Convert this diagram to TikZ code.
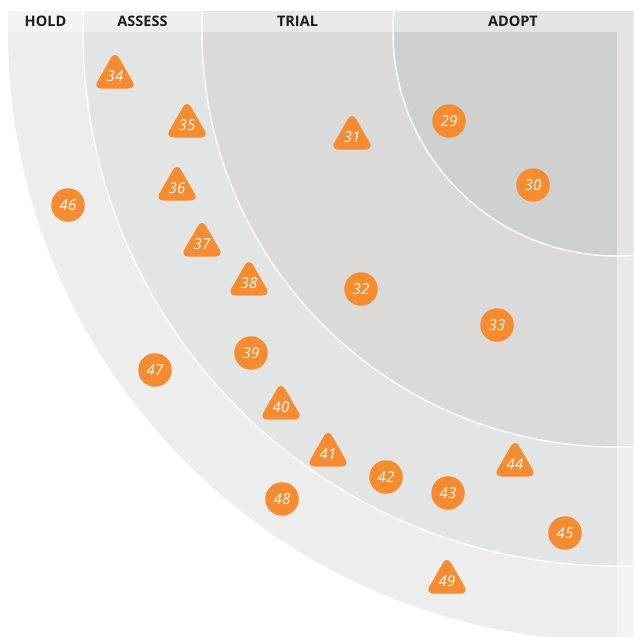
\documentclass[tikz,border=0pt]{standalone}
\usepackage{fontspec}
\setmainfont{Open Sans}
\usetikzlibrary{shapes.geometric}
\definecolor{orng}{HTML}{F68B2F}
\definecolor{holdc}{HTML}{ECEDEC}
\definecolor{assessc}{HTML}{E3E4E4}
\definecolor{trialc}{HTML}{DCDAD8}
\definecolor{adoptc}{HTML}{CFD1D0}
\definecolor{hdrtext}{HTML}{1E1E1E}
\begin{document}
\begin{tikzpicture}[x=1pt,y=-1pt,
  dot/.style={circle, fill=orng, minimum size=33.5pt, inner sep=0pt, text=white,
    font=\itshape\fontsize{15}{15}\selectfont},
  tri/.style={regular polygon, regular polygon sides=3, fill=orng, minimum size=50pt,
    inner sep=0pt, rounded corners=8pt, text=white,
    font=\itshape\fontsize{15}{15}\selectfont},
  ringline/.style={draw=white, line width=1.4pt},
  hdr/.style={font=\bfseries\fontsize{14.5}{14.5}\selectfont, text=hdrtext},
  veil/.style={fill=white, fill opacity=0.42}]
\useasboundingbox (0,0) rectangle (633,637);
\coordinate (c) at (617,32);
\begin{scope}
  \clip (0,11) rectangle (633,637);
  \fill[holdc] (c) circle[radius=609pt];
  \fill[assessc] (c) circle[radius=534pt];
  \fill[trialc] (c) circle[radius=415pt];
  \fill[adoptc] (c) circle[radius=224pt];
  \draw[ringline] (c) circle[radius=534pt];
  \draw[ringline] (c) circle[radius=415pt];
  \draw[ringline] (c) circle[radius=224pt];
  \fill[veil] (0,11) rectangle (617,32);
  \fill[veil] (617,11) rectangle (633,637);
\end{scope}
% header labels
\node[hdr] (hHold) at (45.5,21.5) {HOLD};
\node[hdr] (hAssess) at (142.5,21.5) {ASSESS};
\node[hdr] (hTrial) at (297.5,21.5) {TRIAL};
\node[hdr] (hAdopt) at (513,21.5) {ADOPT};
% markers
\node[dot] (m29) at (449,121) {29};
\node[dot] (m30) at (533,185) {30};
\node[tri] (m31) at (352,137) {31};
\node[dot] (m32) at (361,289) {32};
\node[dot] (m33) at (497,325) {33};
\node[tri] (m34) at (115,76) {34};
\node[tri] (m35) at (187,125) {35};
\node[tri] (m36) at (177,188) {36};
\node[tri] (m37) at (202,244) {37};
\node[tri] (m38) at (249,283) {38};
\node[dot] (m39) at (251,353) {39};
\node[tri] (m40) at (281,407) {40};
\node[tri] (m41) at (328,454) {41};
\node[dot] (m42) at (386,477) {42};
\node[dot] (m43) at (448,493) {43};
\node[tri] (m44) at (515,464) {44};
\node[dot] (m45) at (565,533) {45};
\node[dot] (m46) at (68,205) {46};
\node[dot] (m47) at (155,370) {47};
\node[dot] (m48) at (282,499) {48};
\node[tri] (m49) at (447,581) {49};
\end{tikzpicture}
\end{document}
